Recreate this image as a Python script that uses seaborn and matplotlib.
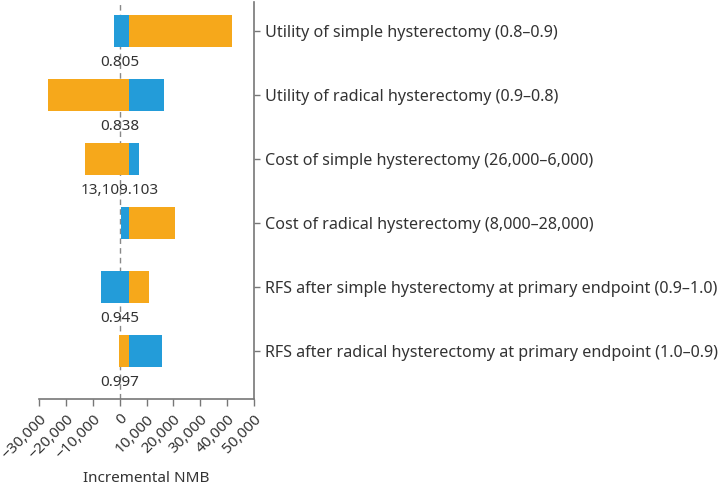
import matplotlib
matplotlib.use("Agg")
import matplotlib.pyplot as plt
import seaborn as sns
import pandas as pd
from matplotlib.ticker import FuncFormatter

# ---- data ----
parameters = [
    "Utility of simple hysterectomy (0.8\u20130.9)",
    "Utility of radical hysterectomy (0.9\u20130.8)",
    "Cost of simple hysterectomy (26,000\u20136,000)",
    "Cost of radical hysterectomy (8,000\u201328,000)",
    "RFS after simple hysterectomy at primary endpoint (0.9\u20131.0)",
    "RFS after radical hysterectomy at primary endpoint (1.0\u20130.9)",
]
base_nmb = 3500
blue_values = [-2100, 16400, 7350, 400, -7100, 15700]
orange_values = [41900, -26500, -12700, 20500, 11100, -260]
value_labels = ["0.805", "0.838", "13,109.103", "", "0.945", "0.997"]
x_ticks = [-30000, -20000, -10000, 0, 10000, 20000, 30000, 40000, 50000]

BLUE = "#239CD9"
ORANGE = "#F6A81B"
TEXT = "#333333"
SPINE = "#777777"

sns.set_theme(style="white")
plt.rcParams["font.family"] = ["Noto Sans", "DejaVu Sans"]

df = pd.DataFrame({
    "param": parameters,
    "blue": [v - base_nmb for v in blue_values],
    "orange": [v - base_nmb for v in orange_values],
})

fig = plt.figure(figsize=(7.19, 4.86), dpi=100)
ax = fig.add_axes([39 / 719, 1 - 399 / 486, (254 - 39) / 719, (399 - 2) / 486])

sns.barplot(data=df, y="param", x="blue", color=BLUE, width=0.5, left=base_nmb,
            saturation=1, ax=ax, linewidth=0)
sns.barplot(data=df, y="param", x="orange", color=ORANGE, width=0.5, left=base_nmb,
            saturation=1, ax=ax, linewidth=0)

ax.axvline(0, color="#888888", linestyle=(0, (4, 3)), linewidth=1, zorder=0)

for i, lab in enumerate(value_labels):
    if lab:
        ax.text(0, i + 0.49, lab, ha="center", va="center", fontsize=11, color=TEXT)

ax.set_xlim(-30000, 50000)
ax.set_ylim(5.75, -0.45)
ax.set_xticks(x_ticks)
ax.xaxis.set_major_formatter(FuncFormatter(lambda v, p: f"{v:,.0f}".replace("-", "\u2212")))
ax.yaxis.tick_right()
ax.yaxis.set_label_position("right")
ax.set_ylabel("")
ax.set_xlabel("Incremental NMB", fontsize=11, color=TEXT, va="center")
ax.xaxis.set_label_coords(0.5, (399 - 478) / 397)

for s in ["left", "top"]:
    ax.spines[s].set_visible(False)
for s in ["right", "bottom"]:
    ax.spines[s].set_color(SPINE)
    ax.spines[s].set_linewidth(1.2)

ax.tick_params(axis="x", direction="out", length=5, width=1, color=SPINE,
               labelsize=11, labelcolor=TEXT, pad=4, bottom=True)
ax.tick_params(axis="y", direction="out", length=4, width=1, color=SPINE,
               labelsize=11.6, labelcolor=TEXT, pad=4, right=True, left=False)
for t in ax.get_xticklabels():
    t.set_rotation(45)
    t.set_ha("right")
    t.set_rotation_mode("anchor")

fig.savefig("out.png", dpi=100)
